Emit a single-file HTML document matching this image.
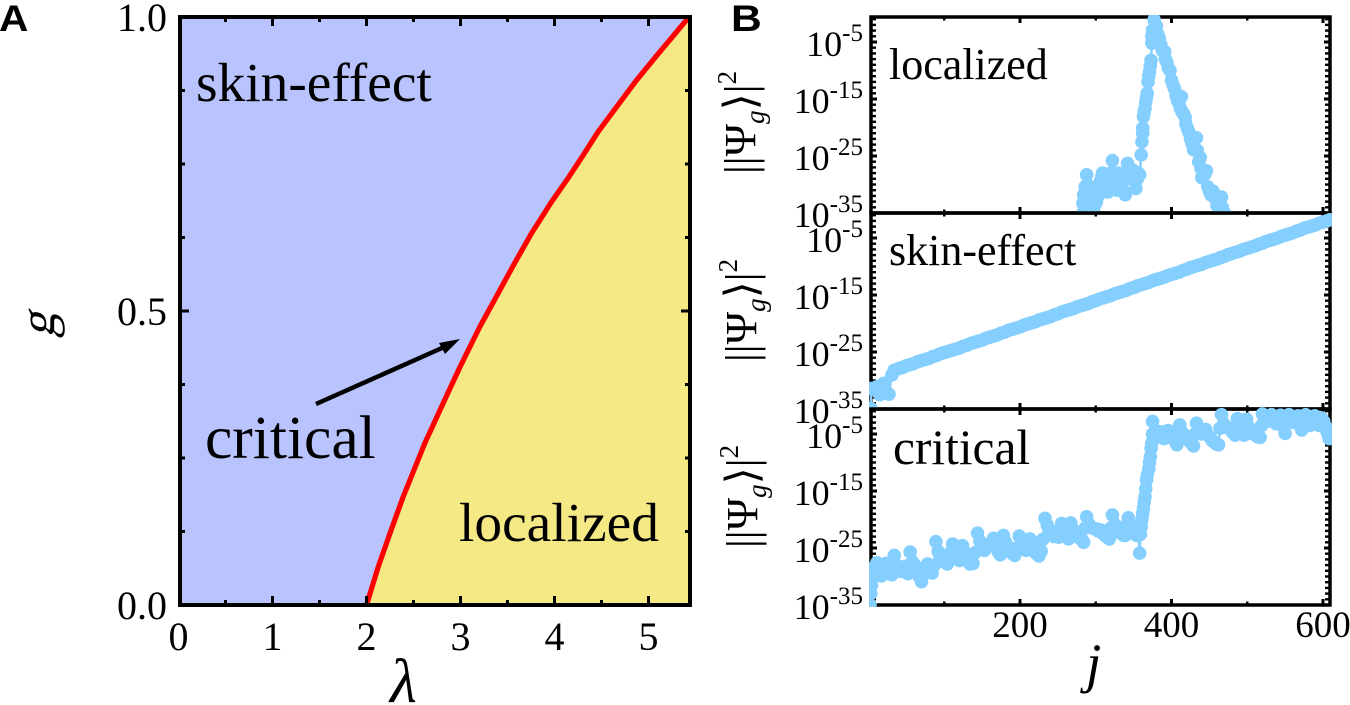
<!DOCTYPE html>
<html lang="en">
<head>
<meta charset="utf-8">
<title>Phase diagram and wave function profiles</title>
<style>
html,body{margin:0;padding:0;background:#fff;}
svg{display:block;font-family:"Liberation Serif","DejaVu Serif",serif;fill:#000;}
.sans{font-family:"Liberation Sans",sans-serif;font-weight:bold;}
</style>
</head>
<body>
<svg id="fig" xmlns="http://www.w3.org/2000/svg" width="1350" height="705" viewBox="0 0 1350 705">
  <defs>
    <clipPath id="clipA"><rect x="180" y="17" width="510" height="588"/></clipPath>
    <clipPath id="clipP0"><rect x="869" y="15" width="463" height="198"/></clipPath>
    <clipPath id="clipP1"><rect x="869" y="211" width="463" height="198"/></clipPath>
    <clipPath id="clipP2"><rect x="869" y="407" width="463" height="200"/></clipPath>
  </defs>
  <g id="panelA"></g>
  <g id="panelB"></g>

  <text class="sans" transform="translate(-1,31) scale(1.1,1)" font-size="37">A</text>
  <text class="sans" transform="translate(731,31) scale(1.15,1)" font-size="37">B</text>

  <text x="196" y="101" font-size="55.4">skin-effect</text>
  <text x="459" y="541" font-size="55.4">localized</text>
  <text x="205" y="458" font-size="61.5">critical</text>

  <line x1="316" y1="404" x2="442" y2="348" stroke="#000" stroke-width="4.5"/>
  <polygon points="460,339 439,343 445,354" fill="#000"/>

  <text transform="translate(54,338) rotate(-90) skewX(-15)" font-size="50">g</text>
  <text x="390" y="702" font-size="62" font-style="italic">λ</text>
  <text x="1086" y="682" font-size="55" font-style="italic">j</text>

  <text x="889" y="79" font-size="44">localized</text>
  <text x="889" y="265" font-size="44">skin-effect</text>
  <text x="893" y="464" font-size="49.4">critical</text>

  <text transform="translate(755,174) rotate(-90)" font-size="44">||Ψ<tspan font-size="27" font-style="italic" dy="9">g</tspan><tspan dy="-9" font-family="DejaVu Sans">⟩</tspan>|<tspan font-size="27" dy="-19">2</tspan></text>
  <text transform="translate(756,362) rotate(-90)" font-size="44">||Ψ<tspan font-size="27" font-style="italic" dy="9">g</tspan><tspan dy="-9" font-family="DejaVu Sans">⟩</tspan>|<tspan font-size="27" dy="-19">2</tspan></text>
  <text transform="translate(757,548) rotate(-90)" font-size="44">||Ψ<tspan font-size="27" font-style="italic" dy="9">g</tspan><tspan dy="-9" font-family="DejaVu Sans">⟩</tspan>|<tspan font-size="27" dy="-19">2</tspan></text>
</svg>

<script>
// Panel A data
var boundaryLambda = [2.00,2.125,2.25,2.39,2.62,2.815,2.995,3.205,3.40,3.56,3.755,3.97,4.145,4.305,4.465,4.66,4.875,5.085,5.405,5.46];
var boundaryG      = [0,0.065,0.122,0.184,0.275,0.343,0.405,0.473,0.530,0.577,0.632,0.686,0.726,0.765,0.805,0.847,0.893,0.934,0.995,1.005];
var lambdaMajorTicks = [0,1,2,3,4,5];
var lambdaMinorTicks = [0.5,1.5,2.5,3.5,4.5];
var gMajorTicks = [0,0.5,1];
var gMinorTicks = [0.125,0.25,0.375,0.625,0.75,0.875];
var gTickLabels = ['0.0','0.5','1.0'];

// Panel B data
var jMajorTicks = [200,400,600];
var jMinorTicks = [100,300,500];
var logMajorTicks = [-35,-25,-15,-5];
var logMinorTicks = [-34,-33,-32,-31,-30,-29,-28,-27,-26,-24,-23,-22,-21,-20,-19,-18,-17,-16,-14,-13,-12,-11,-10,-9,-8,-7,-6,-4,-3,-2,-1];

var localizedJ = [
  283,283,284,286,287,288,289,291,292,294,296,297,299,301,303,305,306,308,309,311,312,314,316,318,320,322,323,325,327,328,330,332,334,336,339,341,342,344,345,347,349,351,353,355,356,358,360,
  361,362,362,363,364,365,366,367,368,369,370,371,372,373,374,374,375,377,
  380,382,384,386,388,391,392,394,396,398,400,402,404,406,408,410,413,412,414,416,418,419,421,423,425,427,429,431,433,434,436,438,439,440,442,444,446,448,450,452,455,458,460,463,466,467,470,473
];
var localizedLog = [
  -35,-33.3,-31.8,-30.4,-30.7,-28.3,-30,-31.5,-32.7,-33.6,-34,-34.2,-33.6,-33,-32.1,-30.8,-29.5,-28.6,-28,-29.2,-30.1,-30.6,-31.3,-29.5,-28,-25.8,-28,-29.2,-30.3,-31,-28,-28.8,-30.4,-31,-31.8,-29,-26.3,-27.2,-28,-27.8,-27.5,-29.2,-30.7,-29,-28,-28.3,-24.8,
  -22.5,-21,-20.1,-18.1,-17.3,-16.6,-15.5,-14.7,-14,-12,-11,-10.2,-9.2,-8.2,-5.2,-4,-2.9,-1.1,
  -2.2,-3.6,-4.4,-5.5,-6.5,-6.7,-8,-8.6,-9.6,-10,-11.7,-12.5,-13.2,-14.4,-15.3,-15.8,-14.6,-16.7,-17.3,-17.6,-18.2,-19.4,-20.2,-20.8,-22,-22.8,-23.9,-23.8,-21.8,-24,-26,-25.3,-27.2,-28.8,-28,-28.2,-27.6,-30.4,-31.2,-31.8,-31.2,-32.5,-33.7,-33,-32.2,-34,-35,-35.6
];

var skinJ = [
  3,4,11,15,20,27,31,34,
  40,45,50,55,60,65,70,75,80,85,90,95,100,105,110,115,120,125,130,135,140,145,150,155,160,165,170,175,180,185,190,195,200,
  205,210,215,220,225,230,235,240,245,250,255,260,265,270,275,280,285,290,295,300,305,310,315,320,325,330,335,340,345,350,355,360,365,370,375,380,385,390,395,400,
  405,410,415,420,425,430,435,440,445,450,455,460,465,470,475,480,485,490,495,500,505,510,515,520,525,530,535,540,545,550,555,560,565,570,575,580,585,590,595,600,605,609
];
var skinLog = [
  -34.9,-31.4,-31.1,-32.5,-30.5,-32.4,-29,-28.2,
  -27.9,-27.7,-27.4,-27.2,-27.0,-26.7,-26.5,-26.3,-26.1,-25.8,-25.6,-25.3,-25.1,-24.9,-24.7,-24.5,-24.3,-24.0,-23.8,-23.5,-23.3,-23.1,-22.9,-22.6,-22.4,-22.2,-22.0,-21.7,-21.5,-21.2,-21.0,-20.8,-20.6,
  -20.3,-20.1,-19.9,-19.7,-19.4,-19.2,-19.0,-18.8,-18.5,-18.3,-18.0,-17.8,-17.6,-17.4,-17.1,-16.9,-16.7,-16.5,-16.2,-16.0,-15.7,-15.5,-15.3,-15.1,-14.8,-14.6,-14.4,-14.2,-13.9,-13.7,-13.4,-13.2,-13.0,-12.8,-12.5,-12.3,-12.1,-11.9,-11.6,-11.4,
  -11.2,-11.0,-10.7,-10.5,-10.2,-10.0,-9.8,-9.6,-9.3,-9.1,-8.9,-8.7,-8.4,-8.2,-7.9,-7.7,-7.5,-7.3,-7.0,-6.8,-6.6,-6.4,-6.1,-5.9,-5.6,-5.4,-5.2,-5.0,-4.7,-4.5,-4.3,-4.1,-3.8,-3.6,-3.3,-3.1,-2.9,-2.7,-2.4,-2.2,-2.0,-1.8
];

var criticalJ = [
  2,3,4,5,8,11,14,17,20,23,26,29,31,34,37,40,43,46,49,52,55,58,61,64,67,70,73,76,78,81,84,87,89,92,95,98,101,104,107,111,114,117,120,124,127,130,134,138,141,
  144,147,150,153,156,159,162,165,168,171,174,177,178,181,184,187,190,193,196,199,202,205,208,211,213,216,219,222,225,228,230,
  233,236,239,242,245,248,251,253,255,258,261,264,267,270,273,276,279,282,284,286,288,291,294,297,300,303,306,309,312,315,318,320,322,325,328,331,334,337,339,341,343,346,349,352,354,356,358,359,360,361,
  362,363,364,365,366,367,368,370,371,372,373,374,375,375,
  378,381,384,387,390,393,396,399,402,405,407,409,411,414,417,420,423,426,429,431,433,436,439,442,445,448,451,454,457,460,462,464,
  466,469,472,475,478,481,484,486,487,490,493,496,499,502,505,508,511,514,517,519,520,523,526,529,532,535,538,541,544,547,550,553,555,558,561,564,567,570,572,575,577,580,583,586,589,592,595,598,601,603,605,607,608
];
var criticalLog = [
  -35,-33,-31.5,-30,-28.3,-27.6,-28.9,-29.9,-28.6,-27.7,-28.4,-29.6,-29.7,-26.3,-28,-28.6,-29.1,-28.4,-28.2,-29.5,-25.7,-27.4,-28,-28.5,-30,-30.9,-29.6,-28.6,-27.8,-28.8,-29.4,-28,-23.9,-25.6,-26.5,-26.9,-27.4,-27.8,-26,-24.3,-26,-26.8,-27.2,-24.6,-25.8,-26.8,-27.8,-27.7,-25.8,
  -22.4,-23.8,-24.8,-25.4,-24.8,-24.4,-24.5,-23.3,-24.8,-25.6,-26.2,-24,-22.8,-24,-24.8,-25.6,-26,-26.3,-25,-22.9,-24,-25,-25.4,-24,-23.4,-24.8,-25.6,-26,-26.4,-25.6,-23.5,
  -19.8,-21,-21.9,-22.6,-23,-22.6,-23.1,-21.6,-20.7,-22,-22.9,-23.4,-20.6,-21.8,-22.4,-22.8,-23.3,-23.6,-24,-21.5,-19.5,-20.8,-21.4,-21.6,-21.6,-22,-21.8,-22.4,-22.8,-23.1,-23.4,-21.5,-19.2,-20.8,-21.4,-22,-22.5,-22.8,-22.8,-21,-19.7,-21,-21.8,-22.4,-22.8,-22.3,-25.9,-22.6,-21.3,-20,
  -18.9,-18,-16.9,-16,-14.6,-13.1,-12.2,-11.1,-10,-9,-7.5,-6.6,-5,-2.8,
  -5.4,-5.2,-4.6,-5.4,-5.8,-4.5,-4.4,-5.2,-5.8,-6.3,-6.9,-4.5,-3.4,-4.7,-5.2,-5.6,-6.2,-6.6,-7.1,-5,-3.1,-4.6,-5,-4.5,-4.2,-5.2,-5.6,-6.2,-6.5,-6.8,-6.9,-4,
  -1.6,-3.2,-3.8,-4,-4.2,-4.8,-5.2,-3.5,-2.3,-3.8,-4.6,-5.2,-2.4,-3.8,-4.6,-5,-5.2,-5.5,-5.6,-3.5,-1.5,-2.2,-2.8,-2.6,-1.6,-2.5,-3.2,-2.4,-1.7,-3.6,-4.9,-2.6,-1.6,-2.5,-3,-2.4,-1.8,-3.2,-4.3,-2.6,-1.6,-2.8,-3.5,-2.4,-1.8,-3.2,-3.5,-2.2,-2.8,-3.6,-4.5,-5.2,-5.8
];

var NS = 'http://www.w3.org/2000/svg';
function make(parent, tag, attrs, txt){
  var n = document.createElementNS(NS, tag);
  for (var k in attrs) n.setAttribute(k, attrs[k]);
  if (txt !== undefined) n.textContent = txt;
  parent.appendChild(n);
  return n;
}

// Axis functions
function xA(v){ return 178.5 + 94 * v; }
function yA(v){ return 605 - 588 * v; }
function xB(v){ return 868.5 + 0.7575 * v; }
var panelBottoms = [213, 409, 605];
function yB(v, p){ return panelBottoms[p] - 5.7 * (v + 35); }

var el, i;
var A = document.getElementById('panelA');
var B = document.getElementById('panelB');

// Panel A regions
el = make(A, 'rect', {x:180, y:17, width:510, height:588, fill:'#B9C4FF'});



var yellowPts = [];
for (i = 0; i < boundaryLambda.length; i++) yellowPts.push(xA(boundaryLambda[i]) + ',' + yA(boundaryG[i]));
var curvePts = yellowPts.join(' ');
yellowPts.push('692,14');
yellowPts.push('692,605');
el = make(A, 'polygon', {points: yellowPts.join(' '), fill:'#F5E985', 'clip-path':'url(#clipA)'});



el = make(A, 'polyline', {points: curvePts, fill:'none', stroke:'#FF0000', 'stroke-width':5.2, 'stroke-linejoin':'round', 'clip-path':'url(#clipA)'});



// Panel A ticks
function tickA(x1, y1, x2, y2){
  var t = make(A, 'line', {x1:x1, y1:y1, x2:x2, y2:y2, stroke:'#000', 'stroke-width':3});
  
  
}
lambdaMajorTicks.forEach(function(v){
  if (v > 0) { tickA(xA(v), 605, xA(v), 596); tickA(xA(v), 17, xA(v), 26); }
  var t = make(A, 'text', {x:xA(v), y:650, 'font-size':40, 'text-anchor':'middle'}, String(v));
  
  
});
lambdaMinorTicks.forEach(function(v){
  tickA(xA(v), 605, xA(v), 600); tickA(xA(v), 17, xA(v), 22);
});
gMajorTicks.forEach(function(v, idx){
  if (v > 0 && v < 1) { tickA(180, yA(v), 189, yA(v)); tickA(690, yA(v), 681, yA(v)); }
  var t = make(A, 'text', {x:167, y:yA(v) + 14, 'font-size':40, 'text-anchor':'end'}, gTickLabels[idx]);
  
  
});
gMinorTicks.forEach(function(v){
  tickA(180, yA(v), 185, yA(v)); tickA(690, yA(v), 685, yA(v));
});
el = make(A, 'rect', {x:180, y:17, width:510, height:588, fill:'none', stroke:'#000', 'stroke-width':4});



// Panel B
var seriesJ = [localizedJ, skinJ, criticalJ];
var seriesLog = [localizedLog, skinLog, criticalLog];
var seriesNames = ['localized', 'skin-effect', 'critical'];
var DOT = '#85CFFF';

function tickB(x1, y1, x2, y2, w){
  var t = make(B, 'line', {x1:x1, y1:y1, x2:x2, y2:y2, stroke:'#000', 'stroke-width':w});
  
  
}

[0, 1, 2].forEach(function(p){
  var bottom = panelBottoms[p], top = bottom - 196;
  var r = make(B, 'rect', {x:871, y:top, width:459, height:196, fill:'none', stroke:'#000', 'stroke-width':3.5});
  
  

  jMajorTicks.forEach(function(v){
    tickB(xB(v), bottom, xB(v), bottom - 6, 3);
    tickB(xB(v), top, xB(v), top + 6, 3);
  });
  jMinorTicks.forEach(function(v){
    tickB(xB(v), bottom, xB(v), bottom - 3.5, 2.5);
    tickB(xB(v), top, xB(v), top + 3.5, 2.5);
  });
  logMinorTicks.forEach(function(v){
    tickB(871, yB(v, p), 876, yB(v, p), 2.4);
    tickB(1330, yB(v, p), 1325, yB(v, p), 2.4);
  });
  logMajorTicks.forEach(function(v){
    if (v > -35) {
      tickB(871, yB(v, p), 877, yB(v, p), 3);
      tickB(1330, yB(v, p), 1324, yB(v, p), 3);
    }
    var t = make(B, 'text', {x:863, y:yB(v, p) + 14, 'font-size':36, 'text-anchor':'end'});
    
    
    make(t, 'tspan', {}, '10');
    make(t, 'tspan', {dy:-15, 'font-size':25}, String(v));
  });

  var g = make(B, 'g', {'clip-path':'url(#clipP' + p + ')'});
  
  

  var js = seriesJ[p], ls = seriesLog[p], pts = [];
  for (var k = 0; k < js.length; k++) pts.push(xB(js[k]) + ',' + yB(ls[k], p));
  var line = make(g, 'polyline', {points: pts.join(' '), fill:'none', stroke:DOT, 'stroke-width':2.5});
  
  
  for (k = 0; k < js.length; k++) {
    var c = make(g, 'circle', {cx:xB(js[k]), cy:yB(ls[k], p), r:6.8, fill:DOT});
    
    
  }
});

jMajorTicks.forEach(function(v){
  var t = make(B, 'text', {x:xB(v), y:637, 'font-size':37, 'text-anchor':'middle'}, String(v));
  
  
});
</script>
</body>
</html>
